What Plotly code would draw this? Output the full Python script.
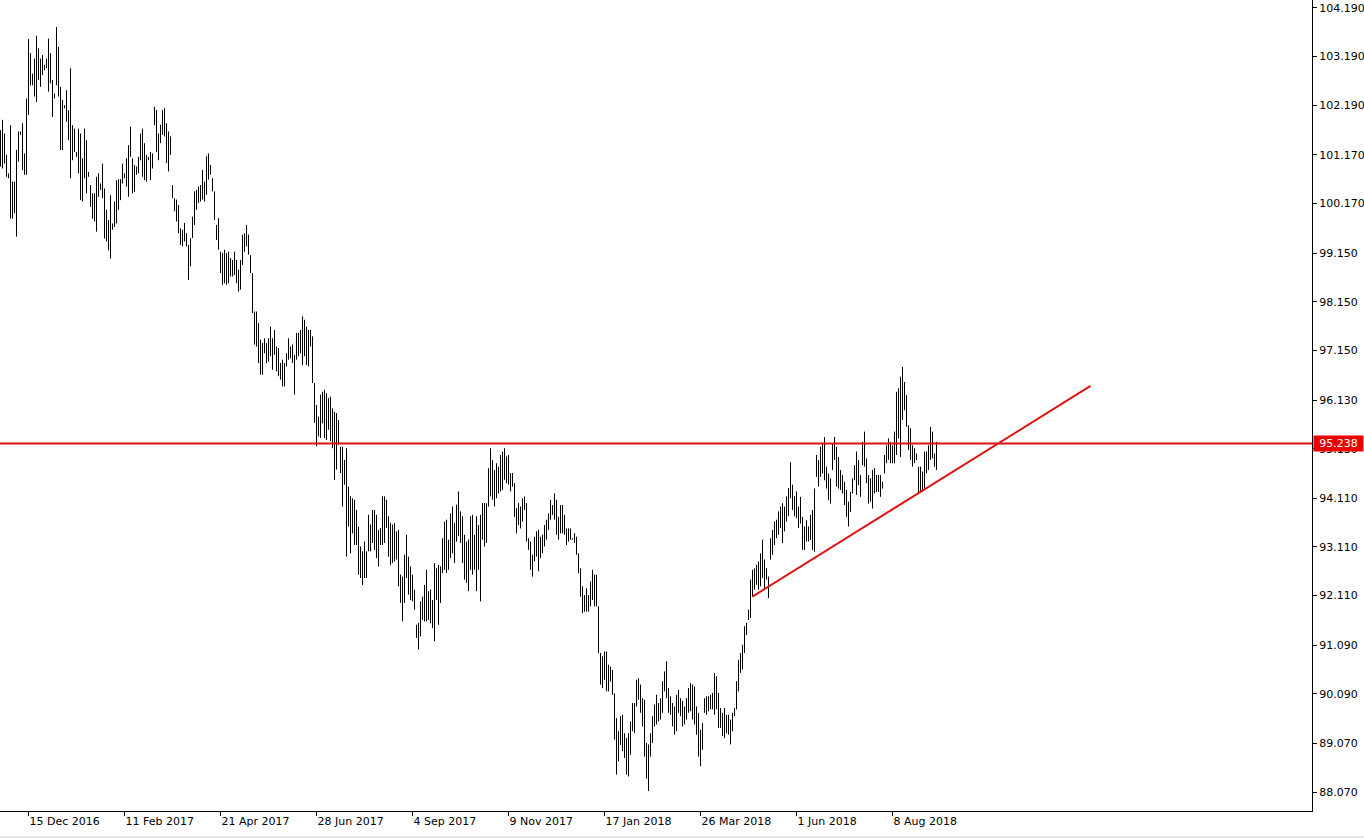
import plotly.graph_objects as go

# ---- daily bar data (high / low), one entry per bar, oldest first ----
highs = [
    101.68, 101.89, 101.61, 101.17, 100.79, 101.78, 100.62, 100.62, 101.27, 101.65,
    101.65, 101.82, 101.20, 102.33, 103.55, 103.26, 102.84, 103.15, 103.62, 103.36,
    103.15, 103.22, 103.02, 103.15, 103.56, 103.26, 102.71, 102.43, 103.80, 103.39,
    102.57, 102.30, 102.19, 102.50, 102.09, 102.95, 101.78, 101.71, 101.23, 101.71,
    101.61, 101.10, 101.71, 101.47, 100.82, 100.55, 100.38, 100.38, 100.72, 100.79,
    100.58, 100.99, 100.48, 100.04, 99.83, 100.34, 99.76, 100.21, 100.65, 100.67,
    100.67, 100.99, 100.79, 101.10, 101.37, 101.75, 101.10, 100.96, 100.93, 101.13,
    101.61, 101.71, 101.41, 101.17, 101.13, 101.23, 101.20, 102.16, 102.09, 101.61,
    101.79, 102.09, 102.13, 101.82, 101.65, 101.55, 100.55, 100.28, 100.25, 100.14,
    99.66, 99.63, 99.77, 99.56, 99.32, 99.46, 99.90, 100.42, 100.45, 100.52,
    100.55, 100.86, 100.62, 101.14, 101.20, 100.96, 100.69, 100.42, 99.73, 99.87,
    99.18, 99.15, 99.22, 99.15, 99.18, 99.05, 99.01, 99.18, 99.01, 98.81,
    99.01, 99.53, 99.56, 99.73, 99.53, 99.11, 98.74, 97.95, 97.95, 97.71,
    97.37, 97.30, 97.40, 97.30, 97.40, 97.64, 97.40, 97.57, 97.23, 97.20,
    96.89, 96.96, 96.89, 97.09, 97.40, 97.23, 97.27, 97.06, 97.51, 97.51,
    97.57, 97.85, 97.78, 97.64, 97.57, 97.57, 97.44, 96.48, 96.03,
    95.79, 96.24, 96.30, 96.34, 96.27, 96.17, 96.20, 95.96, 95.89, 95.86,
    95.72, 95.17, 95.17, 94.90, 95.14, 94.35, 94.15, 94.11, 94.08, 93.87,
    93.53, 93.12, 93.02, 93.22, 93.02, 93.77, 93.57, 93.87, 93.87, 93.77,
    93.46, 93.50, 94.15, 94.15, 94.08, 93.74, 93.60, 93.57, 93.60, 93.43,
    93.46, 92.54, 92.50, 92.95, 93.36, 92.91, 92.71, 92.54, 92.23, 91.51,
    91.55, 91.99, 92.09, 92.33, 92.64, 92.20, 92.23, 92.02, 92.78, 92.67,
    92.74, 92.71, 93.29, 93.63, 93.67, 93.26, 93.80, 93.94, 93.60, 93.98,
    94.25, 93.84, 93.74, 93.36, 93.22, 93.26, 93.74, 93.77, 93.36, 93.74,
    93.56, 93.77, 94.01, 94.01, 94.01, 94.73, 95.14, 94.90, 94.69, 94.83,
    94.76, 95.00, 95.07, 95.14, 94.97, 95.00, 94.63, 94.63, 94.42, 93.91,
    94.01, 93.94, 94.11, 94.15, 94.01, 93.29, 93.22, 92.95, 93.32, 93.43,
    93.46, 93.32, 93.36, 93.56, 93.67, 93.80, 94.08, 93.97, 94.21, 94.08,
    93.73, 93.97, 93.97, 93.77, 93.49, 93.49, 93.49, 93.29, 93.39, 93.32,
    92.98, 92.67, 92.30, 92.12, 92.26, 92.12, 92.40, 92.64, 92.54, 92.54,
    91.89, 90.93, 90.86, 90.96, 90.96, 90.69, 90.65, 90.58, 90.10, 89.59,
    89.32, 89.63, 89.66, 89.28, 89.18, 89.28, 89.52, 89.90, 89.90, 90.38,
    90.41,
    90.28, 90.00, 89.97, 89.08, 89.05, 89.28, 89.63, 89.87, 90.07, 89.90,
    90.00, 90.35, 90.55, 90.76, 90.21, 90.04, 89.90, 89.83, 90.07, 90.17,
    90.00, 89.94, 89.83, 90.00, 90.21, 90.31, 90.28, 90.24, 89.83, 89.70,
    89.35, 89.49, 90.00, 90.04, 90.04, 90.07, 90.11, 90.52, 90.45, 90.11,
    89.80, 89.70, 89.80, 89.66, 89.66, 89.56, 89.70, 89.80, 90.35, 90.79,
    90.93, 91.10, 91.48, 91.55, 91.82, 92.44, 92.64, 92.67, 92.74, 92.81,
    92.98, 93.26, 92.85, 92.67, 92.50, 93.29, 93.46, 93.63, 93.67, 93.84,
    93.94, 94.01, 93.94, 94.15, 94.32, 94.85, 94.39, 94.15, 94.25, 93.94,
    94.14, 93.73, 93.53, 93.66, 93.53, 93.77, 93.87, 94.31, 95.00, 94.90,
    95.17, 95.24, 95.37, 94.76, 94.62, 94.52, 95.24, 95.37, 95.17, 94.96,
    94.69, 94.59, 94.45, 94.28, 94.04, 94.24, 94.52, 94.79, 95.07, 94.90,
    94.59, 95.27, 95.48, 94.93, 94.59, 94.52, 94.69, 94.73, 94.59, 94.59,
    94.59, 94.45, 95.00, 95.20, 95.34, 95.27, 95.20, 95.48, 96.30, 96.37,
    96.61, 96.81, 96.50, 96.23, 95.61, 95.55, 95.20, 95.14, 95.03, 94.76,
    94.76, 94.66, 95.07, 95.07, 95.20, 95.58, 95.48, 95.03, 95.27,
]

lows = [
    100.93, 100.89, 100.99, 100.72, 100.69, 99.86, 99.86, 99.97, 99.49, 101.03,
    101.58, 100.86, 100.76, 100.76, 101.99, 102.60, 102.60, 102.37, 102.26, 102.71,
    102.57, 102.81, 102.91, 102.95, 102.47, 102.64, 101.95, 102.33, 102.60, 102.37,
    101.27, 101.27, 102.13, 101.85, 101.47, 100.69, 101.06, 101.23, 101.13, 100.79,
    100.24, 100.21, 100.69, 100.38, 100.72, 100.10, 99.86, 99.80, 99.59, 100.31,
    100.45, 100.28, 99.45, 99.39, 99.21, 99.04, 99.63, 99.69, 99.76, 100.04,
    100.24, 100.58, 100.69, 100.52, 100.31, 101.13, 100.38, 100.41, 100.76, 100.79,
    101.06, 100.72, 100.65, 100.62, 101.06, 100.65, 100.89, 101.78, 101.23, 101.06,
    101.41, 101.58, 101.55, 101.00, 100.83, 101.17, 100.28, 100.01, 99.80, 99.56,
    99.32, 99.29, 99.39, 99.29, 98.60, 98.88, 99.46, 99.73, 100.04, 100.18,
    100.21, 100.25, 100.21, 100.35, 100.66, 100.76, 100.42, 99.83, 99.42, 99.22,
    98.74, 98.50, 98.53, 98.50, 98.53, 98.67, 98.67, 98.70, 98.53, 98.36,
    98.40, 98.91, 99.18, 99.29, 99.12, 98.74, 97.92, 97.27, 97.23, 96.89,
    96.65, 96.65, 97.09, 96.89, 96.92, 97.03, 96.75, 97.06, 96.72, 96.62,
    96.55, 96.41, 96.41, 96.82, 96.96, 96.99, 96.89, 96.24, 96.96, 97.03,
    97.09, 96.85, 97.03, 96.85, 96.82, 97.23, 96.48, 95.66, 95.18,
    95.38, 95.35, 95.65, 95.35, 95.31, 95.52, 95.28, 95.14, 94.49, 94.70,
    95.21, 94.63, 93.94, 94.39, 92.91, 93.53, 92.98, 93.39, 93.15, 93.15,
    92.54, 92.47, 92.33, 92.47, 92.47, 93.02, 93.02, 93.19, 93.05, 92.88,
    92.71, 93.15, 93.15, 93.19, 93.50, 92.91, 92.74, 92.78, 92.81, 92.85,
    92.30, 91.96, 91.58, 91.96, 92.47, 92.13, 92.02, 91.99, 91.82, 91.24,
    91.00, 91.27, 91.61, 91.58, 91.58, 91.61, 91.54, 91.44, 91.17, 92.02,
    91.51, 91.96, 92.57, 92.64, 92.57, 92.64, 92.88, 92.98, 92.78, 93.22,
    93.33, 93.19, 92.78, 92.44, 92.37, 92.20, 92.64, 92.54, 92.64, 92.20,
    92.64, 91.99, 93.26, 93.12, 93.19, 93.94, 94.15, 94.08, 93.94, 94.11,
    94.21, 94.25, 94.28, 94.49, 94.42, 94.39, 94.25, 94.35, 93.73, 93.39,
    93.56, 93.49, 93.63, 93.87, 93.22, 93.05, 92.64, 92.50, 92.81, 92.91,
    92.61, 92.88, 92.98, 93.12, 93.26, 93.46, 93.67, 93.77, 93.67, 93.36,
    93.26, 93.39, 93.39, 93.36, 93.15, 93.22, 93.26, 93.26, 93.19, 92.95,
    92.57, 92.09, 91.75, 91.78, 91.78, 91.78, 91.89, 92.02, 91.89, 91.89,
    90.93, 90.28, 90.21, 90.38, 90.14, 90.14, 90.34, 90.07, 89.15, 88.43,
    88.70, 89.04, 88.91, 88.77, 88.43, 88.39, 88.84, 89.32, 89.28, 89.83,
    89.97,
    89.70, 89.42, 88.80, 88.35, 88.09, 88.80, 89.08, 89.42, 89.46, 89.52,
    89.56, 89.70, 90.14, 90.00, 89.70, 89.66, 89.42, 89.25, 89.32, 89.70,
    89.63, 89.42, 89.46, 89.56, 89.70, 89.73, 89.56, 89.46, 89.25, 88.80,
    88.60, 88.94, 89.70, 89.66, 89.73, 89.77, 89.77, 89.66, 89.77, 89.39,
    89.39, 89.22, 89.18, 89.28, 89.25, 89.05, 89.32, 89.63, 89.77, 90.14,
    90.52, 90.59, 90.93, 91.30, 91.61, 91.65, 92.09, 92.23, 92.33, 92.23,
    92.30, 92.47, 92.23, 92.44, 92.06, 92.85, 92.95, 93.15, 93.29, 93.36,
    93.50, 93.19, 93.43, 93.63, 93.74, 94.11, 93.87, 93.74, 93.70, 93.50,
    93.59, 93.05, 93.05, 93.22, 93.22, 93.25, 93.05, 93.01, 94.55, 94.35,
    94.55, 94.62, 94.48, 94.31, 94.07, 94.00, 94.69, 94.90, 94.35, 94.31,
    94.28, 94.21, 93.97, 93.73, 93.53, 93.83, 94.21, 94.48, 94.18, 94.38,
    94.14, 94.79, 94.76, 94.42, 94.00, 94.04, 93.90, 94.21, 94.24, 94.24,
    94.14, 94.31, 94.62, 94.83, 94.90, 94.83, 94.83, 94.83, 95.00, 95.34,
    94.96, 95.72, 95.92, 95.58, 95.10, 94.90, 94.76, 94.83, 94.90, 94.24,
    94.24, 94.24, 94.28, 94.62, 94.69, 94.90, 94.93, 94.76, 94.69,
]

# ---- axis labels ----
date_tick_bars = [14, 62, 110, 158, 206, 254, 302, 350, 398, 446]
date_tick_labels = ["15 Dec 2016", "11 Feb 2017", "21 Apr 2017", "28 Jun 2017",
                    "4 Sep 2017", "9 Nov 2017", "17 Jan 2018", "26 Mar 2018",
                    "1 Jun 2018", "8 Aug 2018"]
price_tick_values = [104.190, 103.190, 102.190, 101.170, 100.170, 99.150, 98.150,
                     97.150, 96.130, 95.130, 94.110, 93.110, 92.110, 91.090,
                     90.090, 89.070, 88.070]

# ---- drawn lines ----
resistance_level = 95.238
trend_bars = [376, 545]
trend_prices = [92.09, 96.42]

RED = "rgb(222,16,16)"
FONT = "DejaVu Sans, Tahoma, Verdana, sans-serif"

xs, ys = [], []
for i, (h, l) in enumerate(zip(highs, lows)):
    xs += [i, i, None]
    ys += [l, h, None]

fig = go.Figure()
fig.add_trace(go.Scatter(x=xs, y=ys, mode="lines",
                         line=dict(color="black", width=1),
                         hoverinfo="skip", showlegend=False))
fig.add_trace(go.Scatter(x=trend_bars, y=trend_prices, mode="lines",
                         line=dict(color=RED, width=2),
                         hoverinfo="skip", showlegend=False))
fig.add_hline(y=resistance_level, line=dict(color=RED, width=2))

fig.add_annotation(x=1, xref="paper", xanchor="left", xshift=1,
                   y=resistance_level, yref="y", yanchor="middle",
                   text=f"{resistance_level:.3f}", showarrow=False,
                   font=dict(family=FONT, size=11, color="white"),
                   bgcolor="rgb(235,0,0)", borderpad=1, width=47, height=13)

# thin window border under the time scale
fig.add_shape(type="line", xref="paper", yref="paper",
              x0=0, x1=1.04, y0=-0.032, y1=-0.032,
              line=dict(color="rgb(200,200,200)", width=1))

fig.update_layout(
    width=1364, height=838,
    margin=dict(l=0, r=52, t=0, b=27),
    paper_bgcolor="white", plot_bgcolor="white",
    font=dict(family=FONT, size=11, color="black"),
    showlegend=False,
    xaxis=dict(range=[-0.25, 655.75], tickmode="array",
               tickvals=date_tick_bars, ticktext=date_tick_labels,
               ticks="outside", ticklen=4, tickcolor="black", tickwidth=1,
               ticklabelposition="outside right",
               showline=True, linecolor="black", linewidth=1,
               showgrid=False, zeroline=False, fixedrange=True),
    yaxis=dict(range=[87.681, 104.354], side="right", tickmode="array",
               tickvals=price_tick_values,
               ticktext=[f"{v:.3f}" for v in price_tick_values],
               ticks="outside", ticklen=4, tickcolor="black", tickwidth=1,
               showline=True, linecolor="black", linewidth=1,
               showgrid=False, zeroline=False, fixedrange=True),
)

fig.write_html("out.html", config={"displayModeBar": False},
               post_script="document.body.style.margin='0px';"
                           "document.body.style.overflow='hidden';")
